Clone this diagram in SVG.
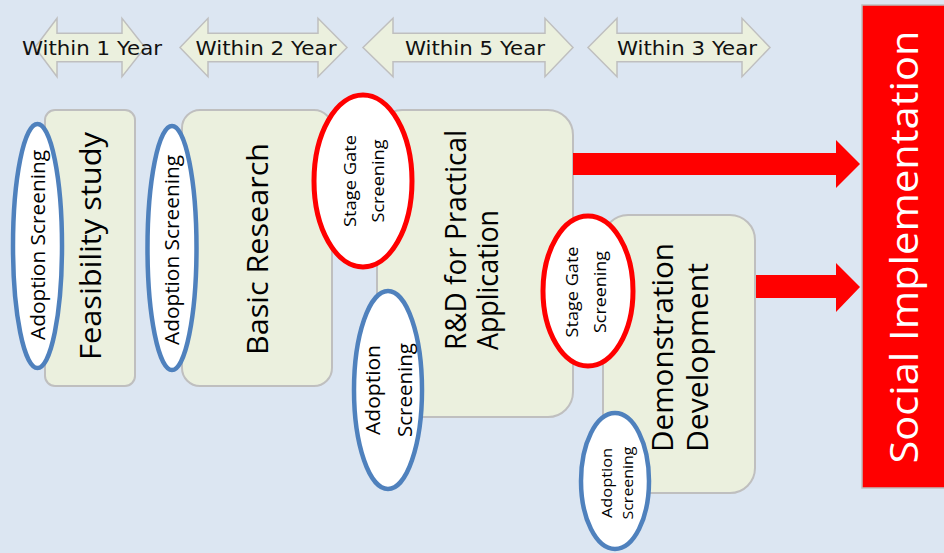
<svg xmlns="http://www.w3.org/2000/svg" width="944" height="553" viewBox="0 0 944 553">
<style>
.bg{fill:#DCE6F2}
.period{fill:#EBF0DE;stroke:#BFBFBF;stroke-width:1.5}
.ptxt{font-family:"DejaVu Sans",Verdana,sans-serif;font-size:20px;fill:#111;text-anchor:middle}
.box{fill:#EBF0DE;stroke:#BFBFBF;stroke-width:2}
.adopt{fill:#FFFFFF;stroke:#4F81BD;stroke-width:4.5}
.gate{fill:#FFFFFF;stroke:#FF0000;stroke-width:5}
.t{font-family:"Open Sans","Noto Sans",sans-serif;fill:#000}
.big{font-size:30px}
.arr{fill:#FF0000}
</style>
<rect class="bg" x="0" y="0" width="944" height="553"/>

<g id="period-1">
<polygon class="period" points="35,47.5 57,18.3 57,33.3 122,33.3 122,18.3 145,47.5 122,76.7 122,61.7 57,61.7 57,76.7"/>
<text class="ptxt" x="92" y="55" textLength="140" lengthAdjust="spacingAndGlyphs">Within 1 Year</text>
</g>
<g id="period-2">
<polygon class="period" points="180,47.5 208,18.3 208,33.3 318,33.3 318,18.3 347,47.5 318,76.7 318,61.7 208,61.7 208,76.7"/>
<text class="ptxt" x="266" y="55" textLength="141" lengthAdjust="spacingAndGlyphs">Within 2 Year</text>
</g>
<g id="period-5">
<polygon class="period" points="363,47.5 393,18.3 393,33.3 545,33.3 545,18.3 573,47.5 545,76.7 545,61.7 393,61.7 393,76.7"/>
<text class="ptxt" x="475" y="55" textLength="140" lengthAdjust="spacingAndGlyphs">Within 5 Year</text>
</g>
<g id="period-3">
<polygon class="period" points="588,47.5 617,18.3 617,33.3 742,33.3 742,18.3 770,47.5 742,76.7 742,61.7 617,61.7 617,76.7"/>
<text class="ptxt" x="687" y="55" textLength="140" lengthAdjust="spacingAndGlyphs">Within 3 Year</text>
</g>

<g id="feasibility">
<rect class="box" x="45" y="110" width="90" height="276" rx="10"/>
<text class="t big" transform="translate(90,246) rotate(-90)" text-anchor="middle" dy="0.35em" textLength="228" lengthAdjust="spacingAndGlyphs">Feasibility study</text>
</g>
<g id="basic">
<rect class="box" x="182" y="110" width="150" height="276" rx="18"/>
<text class="t big" transform="translate(257,249) rotate(-90)" text-anchor="middle" dy="0.35em" textLength="212" lengthAdjust="spacingAndGlyphs">Basic Research</text>
</g>
<g id="rnd">
<rect class="box" x="377" y="110" width="196" height="307" rx="25"/>
<text class="t big" transform="translate(455,350) rotate(-90)" text-anchor="start" dy="0.35em" textLength="220" lengthAdjust="spacingAndGlyphs">R&amp;D for Practical</text>
<text class="t big" transform="translate(487,350) rotate(-90)" text-anchor="start" dy="0.35em" textLength="140" lengthAdjust="spacingAndGlyphs">Application</text>
</g>
<g id="demo">
<rect class="box" x="603" y="215" width="152" height="278" rx="25"/>
<text class="t big" transform="translate(662,452) rotate(-90)" text-anchor="start" dy="0.35em" textLength="209" lengthAdjust="spacingAndGlyphs">Demonstration</text>
<text class="t big" transform="translate(697,452) rotate(-90)" text-anchor="start" dy="0.35em" textLength="189" lengthAdjust="spacingAndGlyphs">Development</text>
</g>

<g id="adopt-1">
<ellipse class="adopt" cx="37.5" cy="246" rx="24.5" ry="122"/>
<text class="t" font-size="20" transform="translate(38,245) rotate(-90)" text-anchor="middle" dy="0.35em" textLength="190" lengthAdjust="spacingAndGlyphs">Adoption Screening</text>
</g>
<g id="adopt-2">
<ellipse class="adopt" cx="172" cy="248" rx="24.5" ry="122"/>
<text class="t" font-size="20" transform="translate(172,250) rotate(-90)" text-anchor="middle" dy="0.35em" textLength="190" lengthAdjust="spacingAndGlyphs">Adoption Screening</text>
</g>
<g id="gate-1">
<ellipse class="gate" cx="363" cy="181" rx="49" ry="86"/>
<text class="t" font-size="16" transform="translate(350,181) rotate(-90)" text-anchor="middle" dy="0.35em" textLength="92" lengthAdjust="spacingAndGlyphs">Stage Gate</text>
<text class="t" font-size="16" transform="translate(378,181) rotate(-90)" text-anchor="middle" dy="0.35em" textLength="83" lengthAdjust="spacingAndGlyphs">Screening</text>
</g>
<g id="adopt-3">
<ellipse class="adopt" cx="388" cy="390" rx="34" ry="99"/>
<text class="t" font-size="20" transform="translate(373,390) rotate(-90)" text-anchor="middle" dy="0.35em" textLength="90" lengthAdjust="spacingAndGlyphs">Adoption</text>
<text class="t" font-size="20" transform="translate(405,390) rotate(-90)" text-anchor="middle" dy="0.35em" textLength="94" lengthAdjust="spacingAndGlyphs">Screening</text>
</g>
<g id="gate-2">
<ellipse class="gate" cx="588" cy="291" rx="45" ry="75"/>
<text class="t" font-size="16" transform="translate(572,292) rotate(-90)" text-anchor="middle" dy="0.35em" textLength="91" lengthAdjust="spacingAndGlyphs">Stage Gate</text>
<text class="t" font-size="16" transform="translate(600,292) rotate(-90)" text-anchor="middle" dy="0.35em" textLength="82" lengthAdjust="spacingAndGlyphs">Screening</text>
</g>
<g id="adopt-4">
<ellipse class="adopt" cx="615" cy="481" rx="34" ry="68"/>
<text class="t" font-size="15" transform="translate(607,483) rotate(-90)" text-anchor="middle" dy="0.35em" textLength="70" lengthAdjust="spacingAndGlyphs">Adoption</text>
<text class="t" font-size="15" transform="translate(628,483) rotate(-90)" text-anchor="middle" dy="0.35em" textLength="73" lengthAdjust="spacingAndGlyphs">Screening</text>
</g>

<g id="social">
<rect x="862" y="5" width="90" height="483" fill="#FF0000" stroke="#BFBFBF" stroke-width="1.5"/>
<text class="t" font-size="38" fill="#FFFFFF" style="fill:#FFFFFF" transform="translate(905,247) rotate(-90)" text-anchor="middle" dy="0.35em" textLength="433" lengthAdjust="spacingAndGlyphs">Social Implementation</text>
</g>

<g id="connectors">
<polygon class="arr" points="573,153 836,153 836,140 860,164 836,188 836,175 573,175"/>
<polygon class="arr" points="756,275 836,275 836,263 860,287 836,312 836,298 756,298"/>
</g>
</svg>
